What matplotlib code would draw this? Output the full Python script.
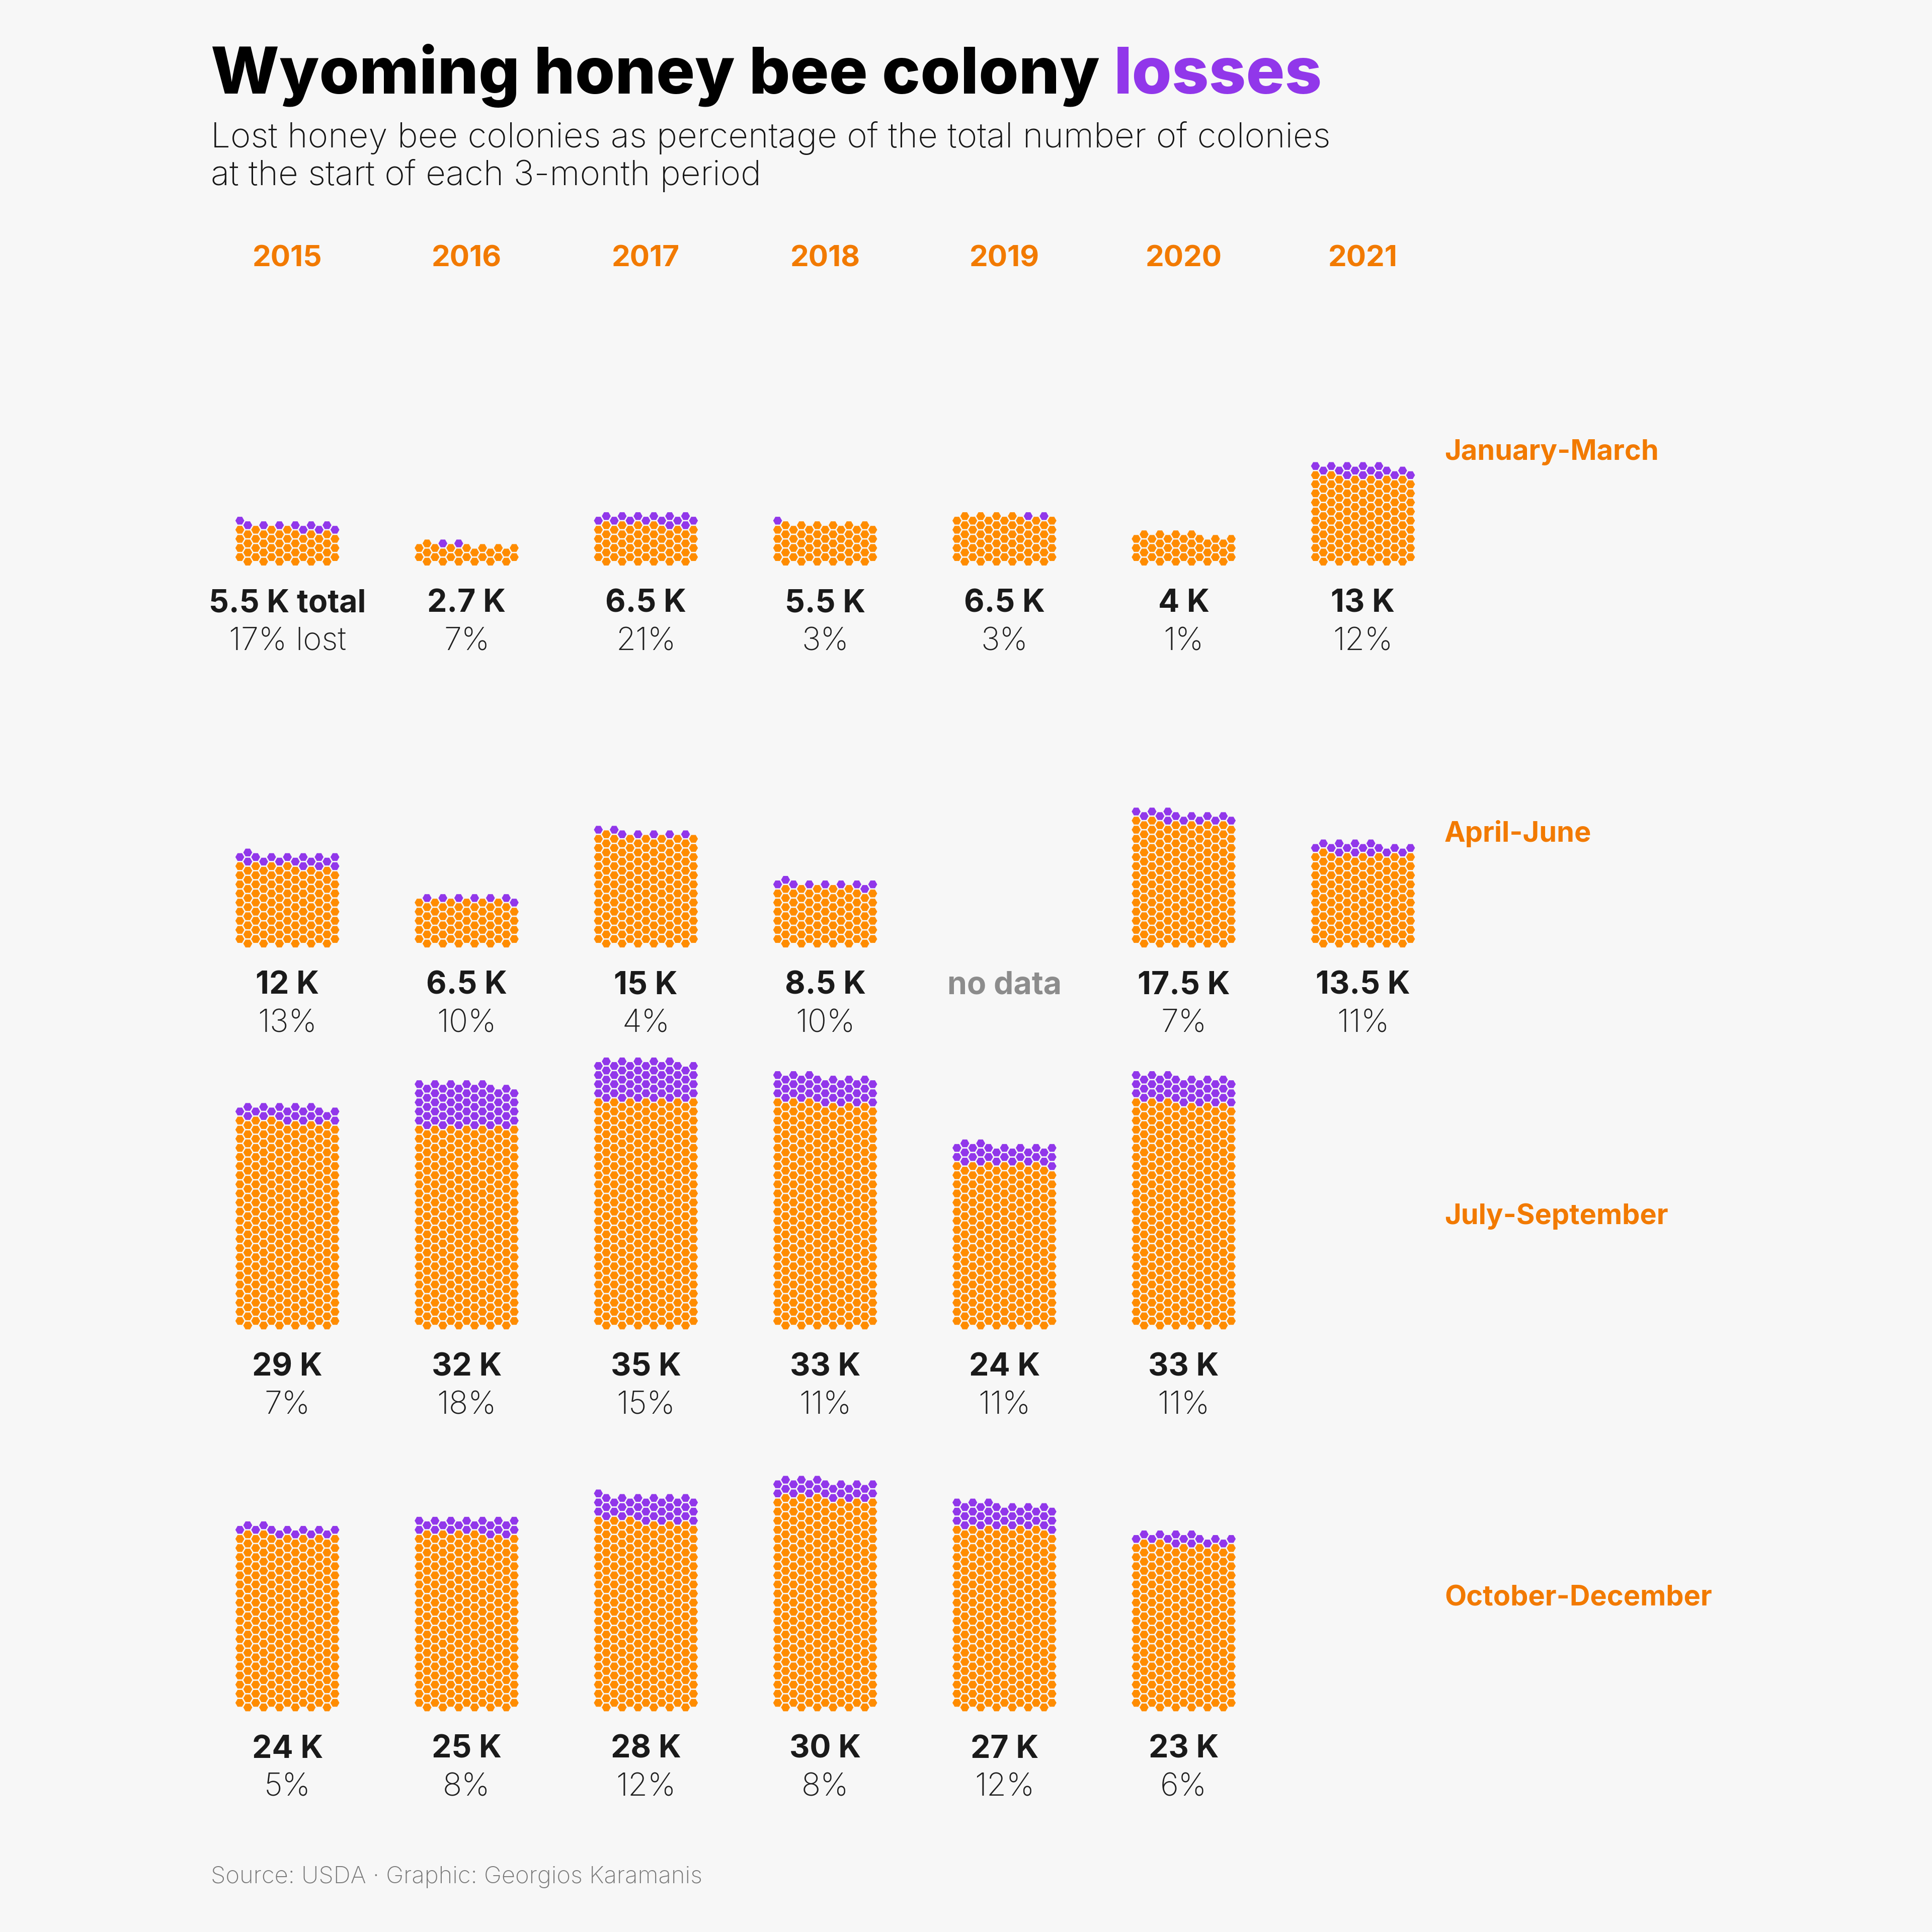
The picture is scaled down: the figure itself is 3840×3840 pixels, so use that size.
import numpy as np
import matplotlib
matplotlib.use("Agg")
import matplotlib.pyplot as plt
from matplotlib.collections import PolyCollection

# ---------------- data ----------------
years = [2015, 2016, 2017, 2018, 2019, 2020, 2021]
quarters = ["January-March", "April-June", "July-September", "October-December"]

# colonies at start of period (thousands, as labelled)
colonies_q1 = [5.5, 2.7, 6.5, 5.5, 6.5, 4, 13]
colonies_q2 = [12, 6.5, 15, 8.5, None, 17.5, 13.5]
colonies_q3 = [29, 32, 35, 33, 24, 33, None]
colonies_q4 = [24, 25, 28, 30, 27, 23, None]

# percent lost (as labelled)
pct_q1 = [17, 7, 21, 3, 3, 1, 12]
pct_q2 = [13, 10, 4, 10, None, 7, 11]
pct_q3 = [7, 18, 15, 11, 11, 11, None]
pct_q4 = [5, 8, 12, 8, 12, 6, None]

# maximum colonies and lost colonies (one hexagon = 100 colonies)
max_q1 = [5900, 2900, 7100, 5900, 7100, 4300, 14100]
max_q2 = [13100, 7100, 16400, 9200, None, 19100, 14700]
max_q3 = [31700, 34900, 38200, 36000, 26200, 36000, None]
max_q4 = [26200, 27300, 30600, 32800, 29500, 25100, None]

lost_q1 = [1000, 200, 1500, 100, 200, 0, 1600]
lost_q2 = [1700, 700, 700, 900, None, 1400, 1600]
lost_q3 = [2200, 6300, 5700, 3900, 2900, 3900, None]
lost_q4 = [1300, 2200, 3700, 2600, 3600, 1500, None]

colonies = [colonies_q1, colonies_q2, colonies_q3, colonies_q4]
pcts = [pct_q1, pct_q2, pct_q3, pct_q4]
maxes = [max_q1, max_q2, max_q3, max_q4]
losts = [lost_q1, lost_q2, lost_q3, lost_q4]
PER_HEX = 100

# ---------------- style ----------------
BG = "#F7F7F7"
ORANGE = "#FF8C00"
PURPLE = "#9137EA"
LABEL_ORANGE = "#F27A00"
DARK = "#1A1A1A"
FONT = "Inter"

W = H = 3840
fig = plt.figure(figsize=(W / 100, H / 100), dpi=100, facecolor=BG)
ax = fig.add_axes([0, 0, 1, 1])
ax.set_xlim(0, W)
ax.set_ylim(H, 0)
ax.set_facecolor(BG)
ax.axis("off")

# geometry (pixels)
NCOL = 13
COL_DX = 15.75
HALF_DY = 9.05
HEX_R = 8.9
PANEL_X0 = 476.7        # first column centre of first panel
PANEL_DX = 356.3
BOTTOM0 = 1116.3        # bottom row centre of first quarter
ROW_DY = 759.1


def hex_positions(n):
    """Fill order: half-rows bottom to top, left to right.
    Even half-rows use columns 1,3,...,11 ; odd half-rows 0,2,...,12."""
    pos = []
    k = 0
    while len(pos) < n:
        cols = range(1, NCOL, 2) if k % 2 == 0 else range(0, NCOL, 2)
        for j in cols:
            if len(pos) >= n:
                break
            pos.append((j, k))
        k += 1
    return pos


ang = np.deg2rad(np.arange(0, 360, 60))
hex_unit = np.column_stack([np.cos(ang), np.sin(ang)]) * HEX_R

polys, cols_ = [], []
for qi in range(4):
    bottom = BOTTOM0 + qi * ROW_DY
    for yi, yr in enumerate(years):
        m = maxes[qi][yi]
        if m is None:
            continue
        n = int(round(m / PER_HEX))
        nl = int(round(losts[qi][yi] / PER_HEX))
        x0 = PANEL_X0 + yi * PANEL_DX
        for idx, (j, k) in enumerate(hex_positions(n)):
            cx = x0 + j * COL_DX
            cy = bottom - k * HALF_DY
            polys.append(hex_unit + [cx, cy])
            cols_.append(PURPLE if idx >= n - nl else ORANGE)

ax.add_collection(PolyCollection(polys, facecolors=cols_, edgecolors="none"))

# ---------------- text ----------------
LEFT = 419
ax.text(LEFT, 186, "Wyoming honey bee colony ", fontsize=92.5, fontweight="heavy",
        family=FONT, color="black", va="baseline", ha="left")
# purple word appended after measuring
fig.canvas.draw()
t0 = ax.texts[0]
bb = t0.get_window_extent()
x_end = ax.transData.inverted().transform((bb.x1, bb.y0))[0]
ax.text(x_end, 186, "losses", fontsize=92.5, fontweight="heavy", family=FONT,
        color=PURPLE, va="baseline", ha="left")

ax.text(LEFT, 293, "Lost honey bee colonies as percentage of the total number of colonies",
        fontsize=49.7, fontweight="light", family=FONT, color="#151515", va="baseline")
ax.text(LEFT, 368, "at the start of each 3-month period",
        fontsize=49.7, fontweight="light", family=FONT, color="#151515", va="baseline")

for yi, yr in enumerate(years):
    cx = PANEL_X0 + yi * PANEL_DX + 6 * COL_DX
    ax.text(cx, 530, str(yr), fontsize=42, fontweight="bold", family=FONT,
            color=LABEL_ORANGE, ha="center", va="baseline")

for qi, q in enumerate(quarters):
    bottom = BOTTOM0 + qi * ROW_DY
    ax.text(2871, bottom - 202, q, fontsize=40.3, fontweight="bold", family=FONT,
            color=LABEL_ORANGE, ha="left", va="baseline")
    for yi, yr in enumerate(years):
        cx = PANEL_X0 + yi * PANEL_DX + 6 * COL_DX
        c = colonies[qi][yi]
        p = pcts[qi][yi]
        if c is None and p is None:
            if qi == 1:
                ax.text(cx, bottom + 100, "no data", fontsize=45, fontweight="bold",
                        family=FONT, color="#8C8C8C", ha="center", va="baseline")
            continue
        first = (qi == 0 and yi == 0)
        ax.text(cx, bottom + 100, f"{c:g} K" + (" total" if first else ""),
                fontsize=45, fontweight="bold", family=FONT, color=DARK,
                ha="center", va="baseline")
        ax.text(cx, bottom + 176, f"{p}%" + (" lost" if first else ""),
                fontsize=45.5, fontweight="light", family=FONT, color="#1F1F1F",
                ha="center", va="baseline")

ax.text(LEFT, 3743, "Source: USDA · Graphic: Georgios Karamanis", fontsize=34,
        fontweight="light", family=FONT, color="#7A7A7A", va="baseline")

fig.savefig("out.png", dpi=100, facecolor=BG)
